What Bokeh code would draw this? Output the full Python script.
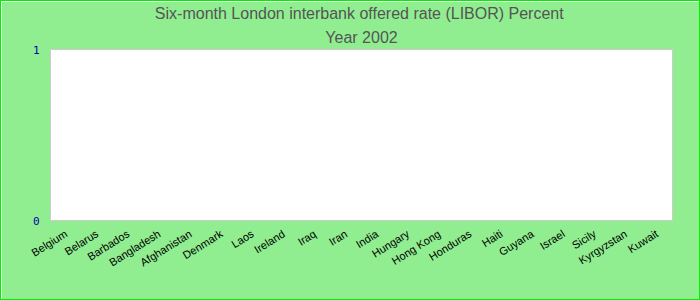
import math
from bokeh.plotting import figure
from bokeh.models import FactorRange, Range1d, FixedTicker, ColumnDataSource, Title
from bokeh.embed import file_html
from bokeh.resources import INLINE

countries = ["Belgium", "Belarus", "Barbados", "Bangladesh", "Afghanistan", "Denmark",
             "Laos", "Ireland", "Iraq", "Iran", "India", "Hungary", "Hong Kong",
             "Honduras", "Haiti", "Guyana", "Israel", "Sicily", "Kyrgyzstan", "Kuwait"]
values = [0] * len(countries)
y_ticks = [0, 1]

title_line1 = "Six-month London interbank offered rate (LIBOR)  Percent"
title_line2 = "Year 2002"

src = ColumnDataSource(dict(x=countries, top=values))

p = figure(width=700, height=300, output_backend="svg", toolbar_location=None,
           x_range=FactorRange(*countries, range_padding=0),
           y_range=Range1d(0, 1),
           min_border_left=49, min_border_right=29, min_border_bottom=81, min_border_top=0)

p.vbar(x="x", top="top", bottom=0, width=0.6, source=src, fill_color="#4f81bd", line_color=None)

p.background_fill_color = "white"
p.border_fill_color = "#90EE90"
p.outline_line_color = "#cccccc"
p.outline_line_width = 1
p.styles = {"border": "1px solid #00ee00", "box-sizing": "border-box"}

p.add_layout(Title(text=title_line2, align="center", text_font="Liberation Sans",
                   text_font_size="16px", text_font_style="normal",
                   text_color="#555555", standoff=8, offset=0), "above")
p.add_layout(Title(text=title_line1, align="center", text_font="Liberation Sans",
                   text_font_size="16px", text_font_style="normal",
                   text_color="#555555", standoff=2, offset=0), "above")

p.grid.visible = False

p.yaxis.ticker = FixedTicker(ticks=y_ticks)
p.yaxis.axis_line_color = None
p.yaxis.major_tick_line_color = None
p.yaxis.minor_tick_line_color = None
p.yaxis.major_tick_out = 0
p.yaxis.major_tick_in = 0
p.yaxis.major_label_text_color = "#0000aa"
p.yaxis.major_label_text_font = "DejaVu Sans Mono"
p.yaxis.major_label_text_font_size = "11px"
p.yaxis.major_label_standoff = 11

p.xaxis.axis_line_color = None
p.xaxis.major_tick_line_color = None
p.xaxis.minor_tick_line_color = None
p.xaxis.major_tick_out = 0
p.xaxis.major_tick_in = 0
p.xaxis.major_label_orientation = 0.56
p.xaxis.major_label_text_font = "Liberation Sans"
p.xaxis.major_label_text_font_size = "11px"
p.xaxis.major_label_text_color = "#000000"
p.xaxis.major_label_standoff = 12

open("out.html", "w").write(file_html(p, INLINE))
